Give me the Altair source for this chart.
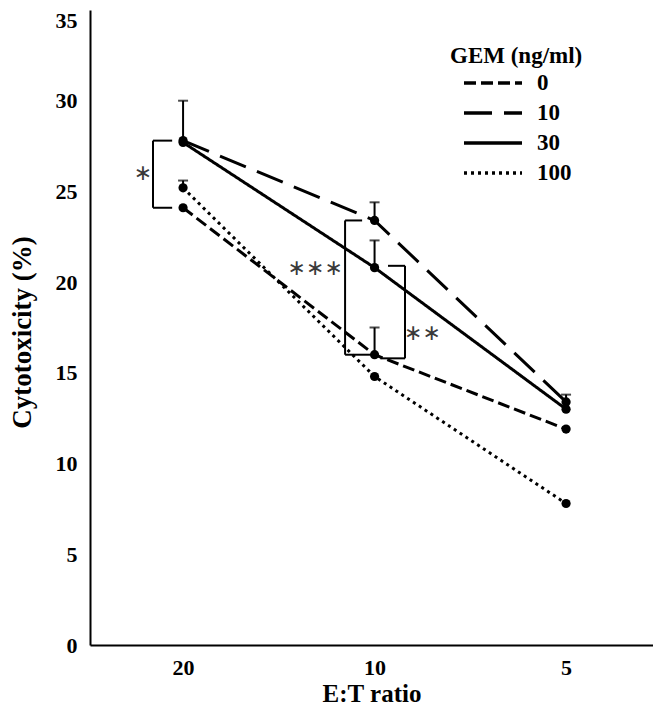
import altair as alt
import pandas as pd

# ---- data ----
ratios = ["20", "10", "5"]
doses = ["0", "10", "30", "100"]
cyto_0 = [24.1, 16.0, 11.9]
cyto_10 = [27.8, 23.4, 13.4]
cyto_30 = [27.7, 20.8, 13.0]
cyto_100 = [25.2, 14.8, 7.8]
err_0 = [0.0, 1.5, 0.0]
err_10 = [2.2, 1.0, 0.4]
err_30 = [0.0, 1.5, 0.0]
err_100 = [0.4, 0.0, 0.0]

# significance brackets (x in category-index units, y in %)
br_x = [-0.157, -0.157, -0.157, 0.846, 0.846, 0.846, 1.159, 1.07, 1.03]
br_y = [27.8, 27.8, 24.1, 23.4, 23.4, 16.0, 20.9, 20.9, 15.8]
br_x2 = [-0.157, -0.057, -0.057, 0.846, 0.935, 0.98, 1.159, 1.159, 1.159]
br_y2 = [24.1, 27.8, 24.1, 16.0, 23.4, 16.0, 15.8, 20.9, 15.8]
sig_text = ["∗", "∗∗∗", "∗∗"]
sig_x = [-0.209, 0.69, 1.25]
sig_y = [26.0, 20.8, 17.2]

vals = {"0": cyto_0, "10": cyto_10, "30": cyto_30, "100": cyto_100}
errs = {"0": err_0, "10": err_10, "30": err_30, "100": err_100}
rows = []
for d in doses:
    for i, r in enumerate(ratios):
        rows.append({"dose": d, "idx": i, "ratio": r, "v": vals[d][i],
                     "top": vals[d][i] + errs[d][i]})
df = pd.DataFrame(rows)
br = pd.DataFrame({"x": br_x, "y": br_y, "x2": br_x2, "y2": br_y2})
sig = pd.DataFrame({"t": sig_text, "x": sig_x, "y": sig_y})

FONT = "Liberation Serif"
xs = alt.Scale(domain=[-0.486, 2.454], nice=False, zero=False)
ys = alt.Scale(domain=[0, 35], nice=False)
label_expr = "[" + ",".join("'" + r + "'" for r in ratios) + "][datum.value]"

xax = alt.Axis(values=[0, 1, 2], labelExpr=label_expr, title="E:T ratio",
               grid=False, ticks=False, labelPadding=12, labelFontSize=22,
               titleY=36, titleBaseline="top", titleFontSize=25)
yax = alt.Axis(values=[0, 5, 10, 15, 20, 25, 30, 35], title="Cytotoxicity (%)",
               grid=False, ticks=False, labelPadding=13, labelFontSize=22,
               labelOffset=alt.ConditionalAxisNumber(
                   condition={"test": "datum.value == 35", "value": 10}, value=0),
               titleX=-81, titleY=322, titleAngle=270, titleBaseline="top",
               titleFontSize=27)

X = alt.X("idx:Q", scale=xs, axis=xax)
Y = alt.Y("v:Q", scale=ys, axis=yax)

dash_scale = alt.Scale(domain=doses, range=[[12, 5], [28, 12], [1, 0], [3, 4]])

lines = alt.Chart(df).mark_line(color="black", strokeWidth=3).encode(
    x=X, y=Y,
    strokeDash=alt.StrokeDash("dose:N", scale=dash_scale, sort=doses,
                              legend=alt.Legend(title="GEM (ng/ml)")),
    detail="dose:N",
)

points = alt.Chart(df).mark_point(filled=True, color="black", size=85, opacity=1).encode(
    x=X, y=Y)

ebars = alt.Chart(df).transform_filter("datum.top > datum.v").mark_rule(
    color="black", strokeWidth=2).encode(x=X, y=Y, y2="top:Q")

caps = alt.Chart(df).transform_filter("datum.top > datum.v").mark_tick(
    color="black", thickness=2, size=10, orient="horizontal").encode(
    x=X, y=alt.Y("top:Q", scale=ys, axis=yax))

brackets = alt.Chart(br).mark_rule(color="black", strokeWidth=2).encode(
    x=alt.X("x:Q", scale=xs, axis=xax), y=alt.Y("y:Q", scale=ys, axis=yax),
    x2="x2:Q", y2="y2:Q")

stars = alt.Chart(sig).mark_text(font="DejaVu Sans", fontSize=22, color="#3a3a3a",
                                 align="center", baseline="middle").encode(
    x=alt.X("x:Q", scale=xs, axis=xax), y=alt.Y("y:Q", scale=ys, axis=yax), text="t:N")

chart = alt.layer(lines, ebars, caps, points, brackets, stars).properties(
    width=563, height=635,
    autosize=alt.AutoSizeParams(type="none"),
    padding={"left": 82, "top": 2, "right": 0, "bottom": 60},
).configure_view(stroke=None).configure_axis(
    domainColor="black", domainWidth=2,
    labelFont=FONT, labelFontWeight="bold", labelColor="black",
    titleFont=FONT, titleFontWeight="bold", titleColor="black",
).configure_legend(
    orient="none", legendX=360, legendY=35,
    titleFont=FONT, titleFontSize=23, titleFontWeight="bold", titleColor="black",
    labelFont=FONT, labelFontSize=23, labelFontWeight="bold", labelColor="black",
    symbolType="stroke", symbolSize=3364, symbolStrokeWidth=3.5,
    symbolStrokeColor="black", symbolOffset=12, labelOffset=13,
    clipHeight=24, rowPadding=6, titlePadding=3,
)

chart.save("out.html", embed_options={"renderer": "svg", "actions": False})
